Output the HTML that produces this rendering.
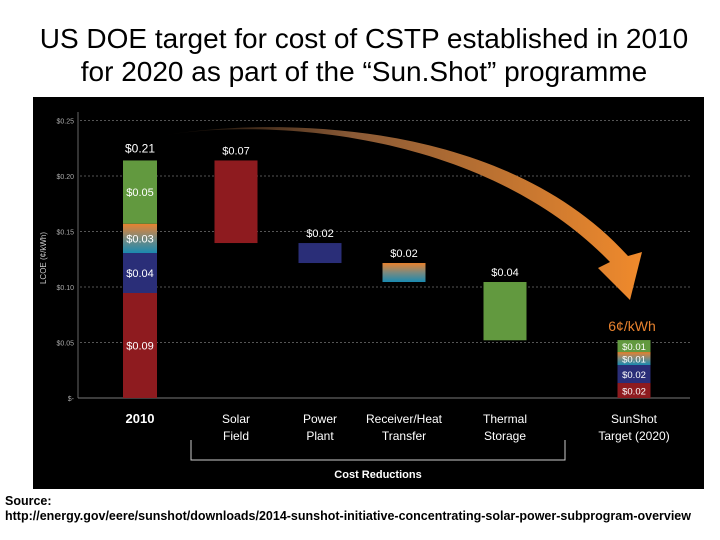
<!DOCTYPE html>
<html><head><meta charset="utf-8"><style>
body{margin:0;width:720px;height:540px;background:#fff;overflow:hidden;font-family:"Liberation Sans",sans-serif}
#title{position:absolute;left:0;top:22px;width:728px;text-align:center;font-size:28px;line-height:33px;color:#000}
#src{position:absolute;left:5px;top:494px;font-size:12.5px;font-weight:bold;line-height:15px;color:#000;white-space:nowrap}
svg{position:absolute;left:0;top:0}
</style></head><body>
<div id="title">US DOE target for cost of CSTP established in 2010<br>for 2020 as part of the “Sun.Shot” programme</div>
<svg id="chart" width="720" height="540"></svg>
<div id="src">Source:<br>http://energy.gov/eere/sunshot/downloads/2014-sunshot-initiative-concentrating-solar-power-subprogram-overview</div>
<script>
const categories=["2010","Solar|Field","Power|Plant","Receiver/Heat|Transfer","Thermal|Storage","SunShot|Target (2020)"];
const ticks=[0,0.05,0.10,0.15,0.20,0.25];
const tickLabels=["$-","$0.05","$0.10","$0.15","$0.20","$0.25"];
const stack2010=[0.0946,0.036,0.0264,0.057];
const stack2010Labels=["$0.09","$0.04","$0.03","$0.05"];
const stackSunshot=[0.0135,0.0162,0.0117,0.0108];
const stackSunshotLabels=["$0.02","$0.02","$0.01","$0.01"];
const reductions=[0.0744,0.018,0.0171,0.0525];
const reductionLabels=["$0.07","$0.02","$0.02","$0.04"];
const total2010Label="$0.21";

const NS="http://www.w3.org/2000/svg";
const svgEl=document.getElementById('chart');
function el(t,a){const e=document.createElementNS(NS,t);for(const k in a)e.setAttribute(k,a[k]);svgEl.appendChild(e);return e;}
const yS=v=>398-v*1110;
const cx=[140,236,320,404,505,634];
const bw=[34,43,43,43,43,33];
svgEl.innerHTML='<defs><linearGradient id="rg" x1="0" y1="0" x2="0" y2="1"><stop offset="0" stop-color="#e8822e"/><stop offset="0.5" stop-color="#7a8a80"/><stop offset="1" stop-color="#1a8ab0"/></linearGradient><linearGradient id="ag" x1="0" y1="0" x2="1" y2="0"><stop offset="0" stop-color="#000"/><stop offset="0.4" stop-color="#8a5a36"/><stop offset="1" stop-color="#f08a2c"/></linearGradient></defs>';
const bg=el('rect',{x:33,y:97,width:671,height:392,fill:'#000'});


ticks.forEach((t,i)=>{
 if(i>0){const g=el('line',{x1:80,x2:690,y1:yS(t),y2:yS(t),stroke:'#555','stroke-dasharray':'2,2'});
 
 }
 const tx=el('text',{x:74,y:yS(t)+3,'text-anchor':'end','font-size':7,fill:'#aaa'});tx.textContent=tickLabels[i];
 
 
});
el('line',{x1:78,x2:78,y1:112,y2:398,stroke:'#666'});
el('line',{x1:78,x2:690,y1:398,y2:398,stroke:'#777'});
const yt=el('text',{x:46,y:258,transform:'rotate(-90 46 258)','text-anchor':'middle','font-size':8,fill:'#ccc'});yt.textContent='LCOE (¢/kWh)';


const ar=el('path',{d:'M160 136 C260 118 480 128 610 262 L598 268 L630 300 L642 252 L628 256 C500 114 260 118 160 136 Z',fill:'url(#ag)'});


function seg(i,b,t,fill,lab,col,fs){
 const r=el('rect',{x:cx[i]-bw[i]/2,y:yS(t),width:bw[i],height:yS(b)-yS(t),fill:fill});
 
 
 if(lab){const tx=el('text',{x:cx[i],y:(yS(b)+yS(t))/2+4,'text-anchor':'middle','font-size':fs||11,fill:col||'#fff'});tx.textContent=lab;
 
 }
}
const cols=['#8e1b1f','#2a2e78','url(#rg)','#62993f'];
let acc=0;stack2010.forEach((v,k)=>{seg(0,acc,acc+v,cols[k],stack2010Labels[k]);acc+=v;});
const tl=el('text',{x:cx[0],y:yS(acc)-8,'text-anchor':'middle','font-size':12,fill:'#fff'});tl.textContent=total2010Label;


let runTop=acc;
reductions.forEach((v,k)=>{const i=k+1;seg(i,runTop-v,runTop,cols[k]);
 const tx=el('text',{x:cx[i],y:yS(runTop)-6,'text-anchor':'middle','font-size':11,fill:'#fff'});tx.textContent=reductionLabels[k];
 
 
 runTop-=v;});
acc=0;stackSunshot.forEach((v,k)=>{seg(5,acc,acc+v,cols[k],stackSunshotLabels[k],'#fff',9.5);acc+=v;});
const st=el('text',{x:632,y:yS(acc)-9,'text-anchor':'middle','font-size':14,fill:'#e8822e'});st.textContent='6¢/kWh';


categories.forEach((c,i)=>{c.split('|').forEach((s,j)=>{
 const tx=el('text',{x:cx[i],y:423+j*17,'text-anchor':'middle','font-size':i==0?13:12,'font-weight':i==0?'bold':'normal',fill:'#fff'});tx.textContent=s;
 
 });});
const br=el('path',{d:'M191 440 V460 H565 V440',stroke:'#ccc',fill:'none'});


const cr=el('text',{x:378,y:478,'text-anchor':'middle','font-size':11,'font-weight':'bold',fill:'#fff'});cr.textContent='Cost Reductions';


</script>
</body></html>
